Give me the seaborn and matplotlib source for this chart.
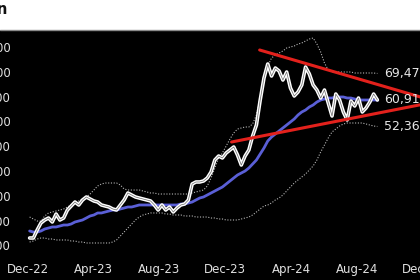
import matplotlib
matplotlib.use("Agg")
import matplotlib.pyplot as plt
import matplotlib.ticker as mticker
import matplotlib.dates as mdates
from matplotlib.patches import Rectangle
from matplotlib.lines import Line2D
import pandas as pd
import seaborn as sns

# ---------------- data (weekly) ----------------
title = "Bitcoin"
start_date = "2022-12-04"

price = [16400, 16400, 18980, 21240, 22200, 22850, 21560, 24140, 22200, 22850,
         25430, 26720, 28010, 27050, 28660, 29630, 28980, 28340, 28010, 27050,
         26720, 26400, 25760, 25430, 27050, 28660, 30920, 30270, 29630, 29300,
         28980, 28660, 28340, 27050, 25430, 27050, 25430, 26400, 24790, 26080,
         27050, 27370, 28660, 33820, 34470, 34470, 34790, 35760, 37690, 41560,
         42850, 42210, 43820, 44790, 45760, 43170, 39950, 42850, 44790, 49300,
         52850, 60920, 68010, 72530, 68660, 71240, 70270, 67370, 69950, 64790,
         62210, 63500, 65760, 71560, 69310, 65760, 64140, 61560, 64140, 59950,
         55760, 62850, 60920, 57050, 54470, 60600, 58980, 61560, 57050, 58340,
         60270, 62850, 60918]

moving_avg = [18660, 18330, 18330, 18660, 19300, 19620, 19950, 19950, 20270, 20590,
              20590, 20920, 21560, 21880, 22210, 22850, 23500, 23820, 24470, 24470,
              24790, 25110, 25430, 25430, 25760, 26080, 26400, 26400, 26720, 27050,
              27050, 27050, 27050, 27050, 27050, 27050, 27050, 27050, 27050, 27050,
              27370, 27370, 27690, 28010, 28660, 29300, 29630, 30270, 30920, 31560,
              32210, 32850, 33820, 34790, 35760, 36720, 37370, 38010, 38980, 40270,
              41560, 43500, 45430, 47690, 48980, 49950, 50920, 51890, 52850, 53820,
              54790, 56080, 57050, 57690, 58660, 59310, 60270, 60920, 61240, 61560,
              61560, 61890, 61890, 61890, 61560, 61560, 61240, 60920, 60920, 60920,
              60920, 60920, 60918]

upper_band = [23170, 22530, 21880, 21880, 23500, 24470, 24790, 25110, 25430, 25760,
              26400, 27050, 27690, 28340, 28980, 29630, 30590, 31880, 33170, 33820,
              34140, 34140, 34140, 34140, 33500, 32210, 31880, 31880, 31880, 31880,
              31560, 31240, 30920, 30920, 30590, 30590, 30590, 30590, 30590, 30590,
              30590, 30590, 30590, 30920, 31240, 31560, 31880, 33170, 35760, 38980,
              42210, 43820, 46080, 48340, 50270, 51560, 51890, 52210, 52210, 53180,
              56080, 61890, 68010, 71890, 74470, 75440, 76080, 76730, 77690, 78020,
              78340, 78980, 79310, 79950, 80600, 80920, 78980, 76400, 72850, 70600,
              69950, 69950, 69950, 69950, 69950, 69950, 69630, 69630, 69630, 69630,
              69630, 69630, 69472]

lower_band = [15110, 15430, 16080, 16400, 16400, 16080, 16080, 15760, 15760, 15760,
              15760, 15430, 15430, 15110, 15110, 14790, 14790, 14790, 14790, 14790,
              14790, 14790, 15110, 15760, 17040, 18330, 19620, 20920, 22210, 23170,
              23820, 24140, 24470, 24470, 24470, 24470, 24140, 24140, 23820, 23820,
              23820, 23500, 23500, 23500, 23170, 23170, 23170, 23170, 22850, 22850,
              22530, 22530, 22210, 22210, 22210, 22210, 22530, 22850, 23170, 23820,
              24790, 25760, 26720, 27050, 27690, 28660, 29300, 30270, 31560, 32850,
              34140, 35110, 36080, 37050, 38340, 39630, 41560, 44140, 46400, 48660,
              50590, 51560, 52530, 53180, 53500, 53500, 53500, 53500, 53500, 53180,
              52850, 52530, 52364]

trend_upper_dates = ["2024-02-03", "2024-12-15"]
trend_upper_vals = [77050, 60950]
trend_lower_dates = ["2023-12-13", "2024-12-15"]
trend_lower_vals = [47370, 60020]

end_labels = [69472, 60918, 52364]
y_ticks = [14000, 22000, 30000, 38000, 46000, 54000, 62000, 70000, 78000]
x_tick_dates = ["2022-12-01", "2023-04-01", "2023-08-01", "2023-12-01",
                "2024-04-01", "2024-08-01", "2024-12-01"]

# ---------------- build frame ----------------
dates = pd.date_range(start_date, periods=len(price), freq="7D")
df = pd.DataFrame({"date": dates, "price": price, "ma": moving_avg,
                   "upper": upper_band, "lower": lower_band})
tu = pd.DataFrame({"date": pd.to_datetime(trend_upper_dates), "v": trend_upper_vals})
tl = pd.DataFrame({"date": pd.to_datetime(trend_lower_dates), "v": trend_lower_vals})

sns.set_style("dark")
plt.rcParams["font.family"] = ["DejaVu Sans"]

W, H = 420, 280
fig = plt.figure(figsize=(W / 100, H / 100), dpi=100, facecolor="black")

# white header strip and separator
fig.add_artist(Rectangle((0, 1 - 30 / H), 1, 30 / H, transform=fig.transFigure,
                         facecolor="white", edgecolor="none", zorder=0))
fig.add_artist(Line2D([0, 1], [1 - 29.5 / H, 1 - 29.5 / H], transform=fig.transFigure,
                      color="#8a8a8a", lw=1.0, zorder=1))
fig.text(7.5 / W, 1 - 10 / H, title, ha="right", va="center", fontsize=10.5,
         fontweight="bold", color="#111111")

ax_left, ax_right, ax_top, ax_bottom = 16, 445, 30, 256
ax = fig.add_axes([ax_left / W, (H - ax_bottom) / H,
                   (ax_right - ax_left) / W, (ax_bottom - ax_top) / H])
ax.set_facecolor("black")

sns.lineplot(data=df, x="date", y="upper", ax=ax, color="#b5b5b5", lw=0.8,
             linestyle=(0, (1, 1.5)), zorder=2)
sns.lineplot(data=df, x="date", y="lower", ax=ax, color="#b5b5b5", lw=0.8,
             linestyle=(0, (1, 1.5)), zorder=2)
sns.lineplot(data=df, x="date", y="ma", ax=ax, color="#5a5fd6", lw=2.0, zorder=3)
sns.lineplot(data=df, x="date", y="price", ax=ax, color="white", lw=2.6, zorder=4)
sns.lineplot(data=df, x="date", y="price", ax=ax, color="#6a6a6a", lw=0.5, zorder=5)
sns.lineplot(data=tu, x="date", y="v", ax=ax, color="#e3211c", lw=2.2, zorder=6)
sns.lineplot(data=tl, x="date", y="v", ax=ax, color="#e3211c", lw=2.2, zorder=6)

last = df["date"].iloc[-1]
for v in end_labels:
    ax.annotate(f"{v:,}", xy=(last, v), xytext=(5, 0), textcoords="offset points",
                ha="left", va="center", color="#e6e6e6", fontsize=9, zorder=7)

d0 = pd.Timestamp("2022-12-01")
ppd = 0.54  # pixels per day
ax.set_xlim(d0 - pd.Timedelta(days=(28 - ax_left) / ppd),
            d0 + pd.Timedelta(days=(ax_right - 28) / ppd))
px_per_unit = 1 / 322.6
ax.set_ylim(60918 - (ax_bottom - 100) / px_per_unit,
            60918 + (100 - ax_top) / px_per_unit)

ax.set_yticks(y_ticks)
ax.yaxis.set_major_formatter(mticker.FuncFormatter(lambda v, p: f"{int(v):,}"))
ax.set_xticks(pd.to_datetime(x_tick_dates))
ax.xaxis.set_major_formatter(mdates.DateFormatter("%b-%y"))
ax.tick_params(axis="both", length=0, colors="#e0e0e0", labelsize=8.5)
ax.tick_params(axis="x", pad=5)
ax.tick_params(axis="y", pad=4)
ax.set_xlabel("")
ax.set_ylabel("")
ax.grid(False)
for s in ax.spines.values():
    s.set_visible(False)
if ax.get_legend():
    ax.get_legend().remove()

fig.savefig("out.png", dpi=100, facecolor=fig.get_facecolor())
